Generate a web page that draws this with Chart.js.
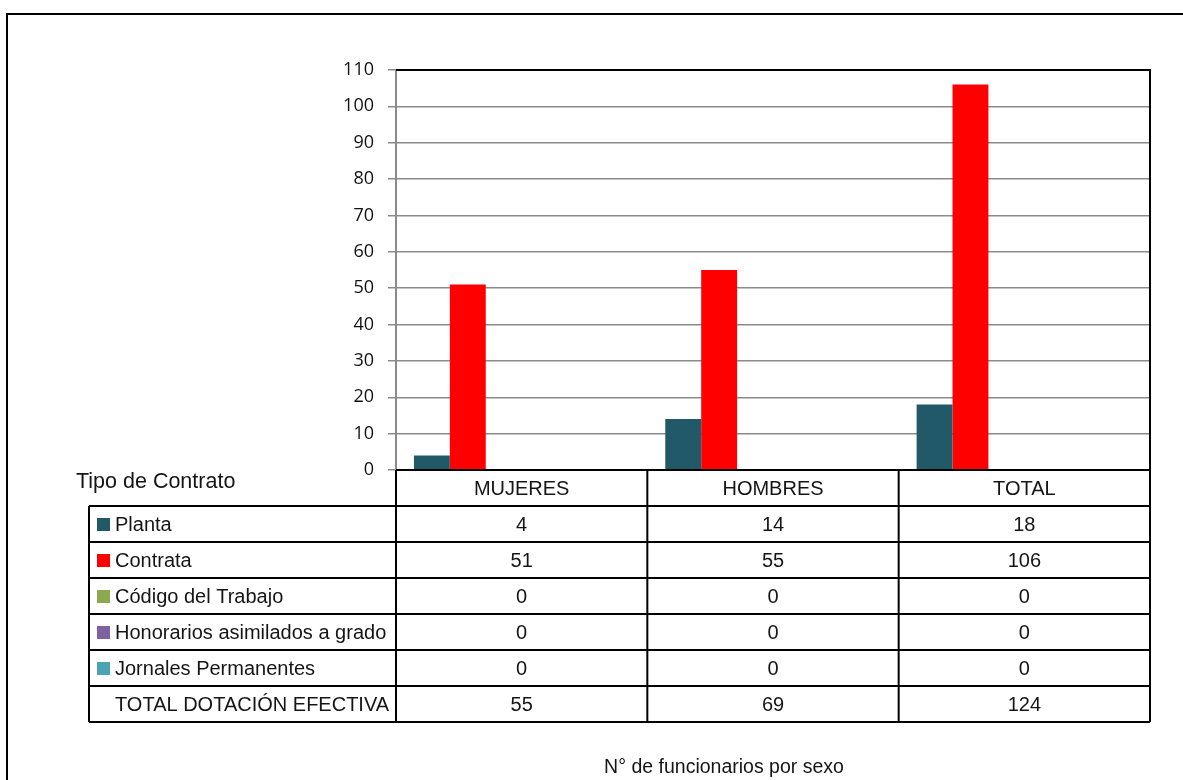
<!DOCTYPE html>
<html lang="es">
<head>
<meta charset="UTF-8">
<title>N° de funcionarios por sexo</title>
<script src="https://cdn.jsdelivr.net/npm/chart.js"></script>
<style>
  html, body { margin: 0; padding: 0; background: #fff; }
  #wrap { width: 1183px; height: 780px; position: relative; overflow: hidden; }
</style>
</head>
<body>
<div id="wrap">
  <canvas id="grafico" width="1183" height="780"></canvas>
</div>
<script>
// Datos del gráfico
const categorias = ["MUJERES", "HOMBRES", "TOTAL"];
const planta = [4, 14, 18];
const contrata = [51, 55, 106];
const codigoTrabajo = [0, 0, 0];
const honorarios = [0, 0, 0];
const jornales = [0, 0, 0];
const totalDotacion = [55, 69, 124];
const ticksY = [0, 10, 20, 30, 40, 50, 60, 70, 80, 90, 100, 110];

const series = [
  { label: "Planta", data: planta, color: "#215968" },
  { label: "Contrata", data: contrata, color: "#FF0000" },
  { label: "Código del Trabajo", data: codigoTrabajo, color: "#8EA84F" },
  { label: "Honorarios asimilados a grado", data: honorarios, color: "#7F62A0" },
  { label: "Jornales Permanentes", data: jornales, color: "#4BA3B8" },
  // la fila total ocupa lugar en el grupo pero no se dibuja
  { label: "TOTAL DOTACIÓN EFECTIVA", data: totalDotacion, color: null }
];

const fuenteTabla = "'Liberation Sans Narrow', 'Arial Narrow', 'Liberation Sans', sans-serif";
const altoFila = 36;

// Tabla de datos y bordes, dibujados bajo el gráfico
const tablaPlugin = {
  id: "tabla",
  afterDraw(chart) {
    const ctx = chart.ctx;
    const area = chart.chartArea;
    const xs = chart.scales.x;
    const anchoCat = (area.right - area.left) / categorias.length;
    const izq = 89;
    const top = area.bottom;
    ctx.save();

    // borde exterior
    ctx.strokeStyle = "#000";
    ctx.lineWidth = 2;
    ctx.strokeRect(7, 14, 1300, 900);

    // bordes superior y derecho del área de trazado
    ctx.beginPath();
    ctx.moveTo(area.left, area.top);
    ctx.lineTo(area.right, area.top);
    ctx.lineTo(area.right, area.bottom);
    ctx.stroke();

    const filas = series.length;
    const fondo = top + altoFila * (filas + 1);

    // líneas horizontales
    ctx.beginPath();
    ctx.moveTo(area.left, top);
    ctx.lineTo(area.right, top);
    for (let r = 1; r <= filas + 1; r++) {
      const y = top + altoFila * r;
      ctx.moveTo(izq, y);
      ctx.lineTo(area.right, y);
    }
    // líneas verticales
    ctx.moveTo(izq, top + altoFila);
    ctx.lineTo(izq, fondo);
    for (let c = 0; c <= categorias.length; c++) {
      const x = area.left + anchoCat * c;
      ctx.moveTo(x, top);
      ctx.lineTo(x, fondo);
    }
    ctx.stroke();

    ctx.fillStyle = "#151515";
    ctx.textBaseline = "middle";

    // encabezado
    ctx.font = "21.5px " + fuenteTabla;
    ctx.textAlign = "left";
    ctx.fillText("Tipo de Contrato", 76, top + 12);
    ctx.font = "20px " + fuenteTabla;
    ctx.textAlign = "center";
    categorias.forEach((cat, i) => {
      ctx.fillText(cat, xs.getPixelForValue(i), top + altoFila / 2 + 1);
    });

    // filas
    series.forEach((s, r) => {
      const yc = top + altoFila * (r + 1) + altoFila / 2 + 1;
      if (s.color) {
        ctx.fillStyle = s.color;
        ctx.fillRect(97, yc - 7, 13, 13);
      }
      ctx.fillStyle = "#151515";
      ctx.textAlign = "left";
      ctx.fillText(s.label, 115, yc);
      ctx.textAlign = "center";
      s.data.forEach((v, i) => {
        ctx.fillText(String(v), xs.getPixelForValue(i), yc);
      });
    });

    // título del eje
    ctx.font = "19.5px " + fuenteTabla;
    ctx.textAlign = "center";
    ctx.fillText("N° de funcionarios por sexo", 724, 768);
    ctx.restore();
  }
};

new Chart(document.getElementById("grafico"), {
  type: "bar",
  data: {
    labels: categorias,
    datasets: series.map(s => ({
      label: s.label,
      data: s.data,
      backgroundColor: s.color || "rgba(0,0,0,0)",
      borderWidth: 0
    }))
  },
  options: {
    responsive: false,
    animation: false,
    events: [],
    layout: { padding: { left: 336, right: 33, top: 70, bottom: 310 } },
    datasets: { bar: { categoryPercentage: 6 / 7, barPercentage: 1 } },
    plugins: { legend: { display: false }, tooltip: { enabled: false } },
    scales: {
      x: { display: false },
      y: {
        min: 0,
        max: 110,
        afterFit(scale) { scale.width = 60; },
        afterBuildTicks(scale) { scale.ticks = ticksY.map(v => ({ value: v })); },
        ticks: {
          color: "#111",
          padding: 14,
          font: { family: "'Open Sans', sans-serif", size: 18 }
        },
        grid: { color: "#8a8a8a", lineWidth: 1.5, tickLength: 8 },
        border: { color: "#8a8a8a", width: 2 }
      }
    }
  },
  plugins: [tablaPlugin]
});
</script>
</body>
</html>
